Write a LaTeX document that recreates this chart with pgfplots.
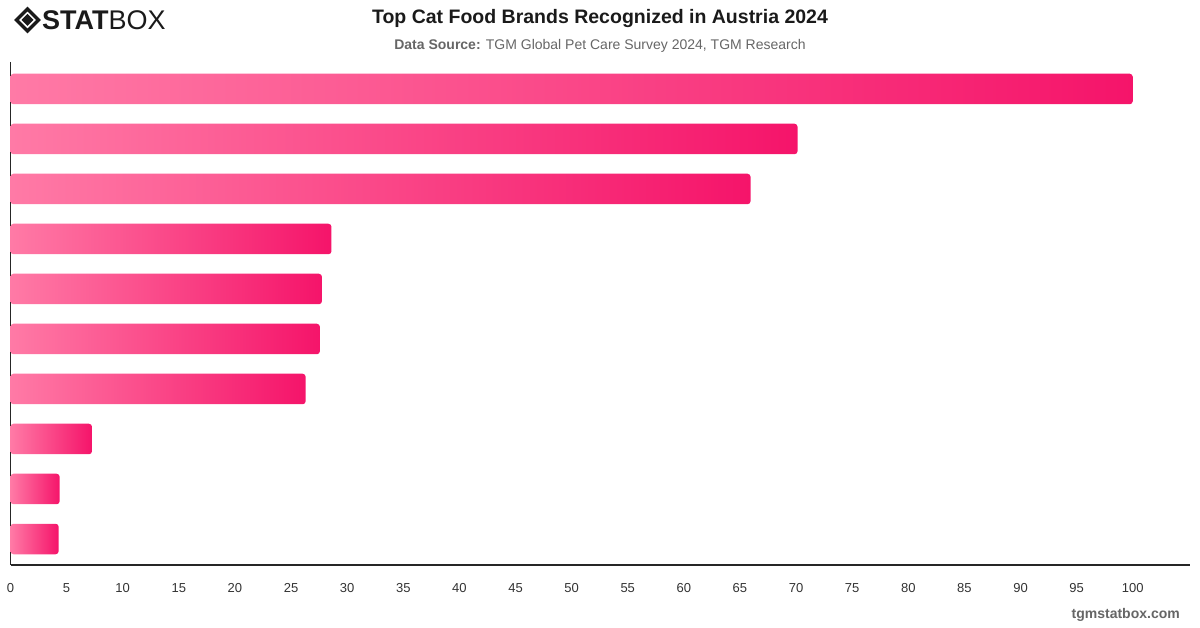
\documentclass[border=0pt]{standalone}
\usepackage{pgfplots}
\pgfplotsset{compat=1.18}
\usepackage{fontspec}
\setmainfont{Liberation Sans}
\definecolor{barL}{HTML}{FF7AA6}
\definecolor{barR}{HTML}{F5146A}
\definecolor{titlec}{HTML}{1A1A1A}
\definecolor{subc}{HTML}{666666}
\definecolor{tickc}{HTML}{333333}
\begin{document}
\begin{tikzpicture}
\path[use as bounding box] (0pt,0pt) rectangle (1200pt,628pt);
% logo
\begin{scope}[shift={(27.5pt,608pt)}]
\draw[line width=3.2pt,titlec,line join=miter] (0pt,11pt) -- (11pt,0pt) -- (0pt,-11pt) -- (-11pt,0pt) -- cycle;
\fill[titlec] (0pt,6pt) -- (6pt,0pt) -- (0pt,-6pt) -- (-6pt,0pt) -- cycle;
\end{scope}
\node[anchor=west,inner sep=0pt,text=titlec] at (42pt,607.5pt) {\fontsize{27}{30}\selectfont\bfseries STAT\mdseries BOX};
% titles
\node[anchor=center,inner sep=0pt,text=titlec] at (600pt,609.5pt) {\fontsize{19.5}{22}\selectfont\bfseries Top Cat Food Brands Recognized in Austria 2024};
\node[anchor=center,inner sep=0pt,text=subc] at (600pt,582.5pt) {\fontsize{14}{16}\selectfont\textbf{Data Source:} TGM Global Pet Care Survey 2024, TGM Research};
\node[anchor=east,inner sep=0pt,text=subc] at (1180pt,13pt) {\fontsize{14}{16}\selectfont\bfseries tgmstatbox.com};
\begin{axis}[
  at={(10.5pt,63pt)}, anchor=south west,
  scale only axis, width=1179.5pt, height=503pt,
  xmin=0, xmax=105.1,
  ymin=-0.54, ymax=9.52, y dir=reverse,
  axis x line=bottom, axis y line=left,
  axis line style={black!85, line width=1.3pt, -},
  xtick={0,5,...,100}, ytick=\empty,
  major tick length=0pt,
  xticklabel style={font=\fontsize{13}{15}\selectfont, text=tickc, yshift=-15pt},
  /pgf/number format/assume math mode=true,
  xbar, bar width=30.5pt, bar shift=0pt,
  clip=true,
]
\addplot[draw=none, left color=barL, right color=barR, rounded corners=3pt, bar shift=0pt] coordinates {(100,0)};
\addplot[draw=none, left color=barL, right color=barR, rounded corners=3pt, bar shift=0pt] coordinates {(70.13,1)};
\addplot[draw=none, left color=barL, right color=barR, rounded corners=3pt, bar shift=0pt] coordinates {(65.94,2)};
\addplot[draw=none, left color=barL, right color=barR, rounded corners=3pt, bar shift=0pt] coordinates {(28.6,3)};
\addplot[draw=none, left color=barL, right color=barR, rounded corners=3pt, bar shift=0pt] coordinates {(27.75,4)};
\addplot[draw=none, left color=barL, right color=barR, rounded corners=3pt, bar shift=0pt] coordinates {(27.57,5)};
\addplot[draw=none, left color=barL, right color=barR, rounded corners=3pt, bar shift=0pt] coordinates {(26.3,6)};
\addplot[draw=none, left color=barL, right color=barR, rounded corners=3pt, bar shift=0pt] coordinates {(7.26,7)};
\addplot[draw=none, left color=barL, right color=barR, rounded corners=3pt, bar shift=0pt] coordinates {(4.38,8)};
\addplot[draw=none, left color=barL, right color=barR, rounded corners=3pt, bar shift=0pt] coordinates {(4.29,9)};
\end{axis}
\end{tikzpicture}
\end{document}
